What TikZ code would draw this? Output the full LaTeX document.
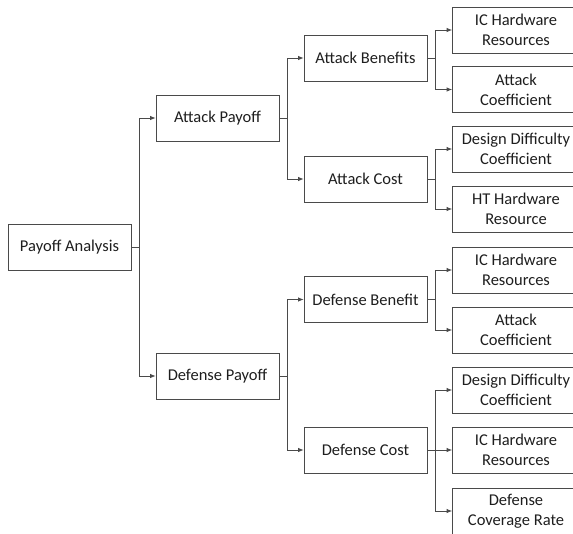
\documentclass[tikz,border=0pt]{standalone}
\usepackage{fontspec}
\setmainfont{Carlito}
\usepackage{tikz}
\usetikzlibrary{arrows.meta}

\definecolor{linegray}{HTML}{4A4A4A}
\definecolor{textgray}{HTML}{1E1E1E}

\tikzset{
  box/.style={draw=linegray, line width=0.8pt, minimum width=123pt, minimum height=46pt,
    inner sep=0pt, align=center, text=textgray, font=\fontsize{16.5}{20}\selectfont},
  link/.style={draw=linegray, line width=0.8pt, -{Latex[length=5.5pt,width=4.5pt]}},
}

\begin{document}
\begin{tikzpicture}[x=1pt,y=-1pt]
  \useasboundingbox (0,0) rectangle (573,533);
  % Level 0 and 1
  \node[box] (pa) at (69.5,247) {Payoff Analysis};
  \node[box] (ap) at (217.5,118) {Attack Payoff};
  \node[box] (dp) at (217.5,376) {Defense Payoff};
  % Level 2
  \node[box] (ab) at (365.5,58) {Attack Benefits};
  \node[box] (ac) at (365.5,179) {Attack Cost};
  \node[box] (db) at (365.5,299.5) {Defense Benefit};
  \node[box] (dc) at (365.5,450) {Defense Cost};
  % Level 3 (runs past the right edge)
  \begin{scope}[box/.append style={minimum width=127pt}]
    \node[box] (ab1) at (516,30) {IC Hardware\\Resources};
    \node[box] (ab2) at (516,89.5) {Attack\\Coefficient};
    \node[box] (ac1) at (516,149) {Design Difficulty\\Coefficient};
    \node[box] (ac2) at (516,209) {HT Hardware\\Resource};
    \node[box] (db1) at (516,270) {IC Hardware\\Resources};
    \node[box] (db2) at (516,330) {Attack\\Coefficient};
    \node[box] (dc1) at (516,390) {Design Difficulty\\Coefficient};
    \node[box] (dc2) at (516,450) {IC Hardware\\Resources};
    \node[box] (dc3) at (516,511) {Defense\\Coverage Rate};
  \end{scope}
  % Connectors
  \foreach \p/\c in {pa/ap,pa/dp,ap/ab,ap/ac,dp/db,dp/dc,ab/ab1,ab/ab2,ac/ac1,ac/ac2,
                     db/db1,db/db2,dc/dc1,dc/dc3}
    \draw[link] (\p.east) -- ++(8,0) |- (\c.west);
  \draw[link] (dc.east) -- (dc2.west);
\end{tikzpicture}
\end{document}
